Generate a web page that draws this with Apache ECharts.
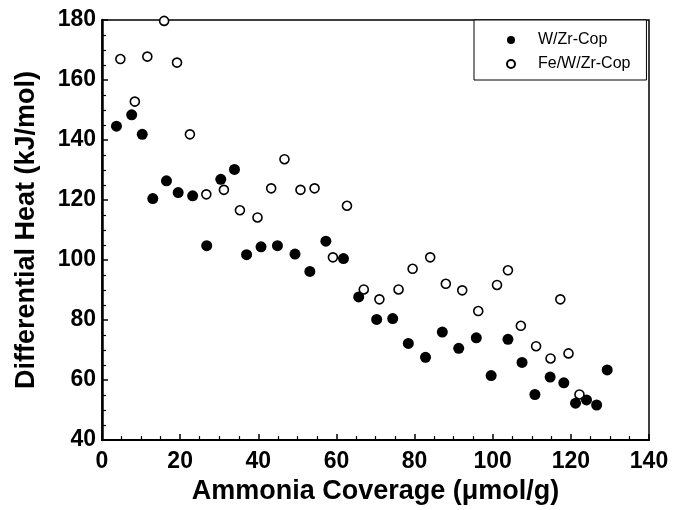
<!DOCTYPE html>
<html>
<head>
<meta charset="utf-8">
<script src="https://cdn.jsdelivr.net/npm/echarts@6/dist/echarts.min.js"></script>
<style>
  html, body { margin: 0; padding: 0; background: #fff; }
  #chart { width: 674px; height: 510px; }
</style>
</head>
<body>
<div id="chart"></div>
<script>
// W/Zr-Cop (filled circles): [coverage, heat]
const wzr_x = [3.7, 7.6, 10.3, 13.0, 16.5, 19.5, 23.2, 26.8, 30.4, 33.9, 37.0, 40.7, 44.9,
               49.4, 53.2, 57.3, 61.8, 65.7, 70.3, 74.4, 78.4, 82.8, 87.1, 91.3, 95.8,
               99.6, 103.9, 107.5, 110.8, 114.7, 118.2, 121.2, 124.0, 126.6, 129.3];
const wzr_y = [144.6, 148.4, 141.9, 120.5, 126.4, 122.5, 121.4, 104.8, 126.9, 130.2, 101.8, 104.4, 104.8,
               102.0, 96.2, 106.3, 100.5, 87.7, 80.2, 80.5, 72.2, 67.6, 76.0, 70.6, 74.1,
               61.5, 73.6, 65.9, 55.2, 61.0, 59.1, 52.3, 53.4, 51.7, 63.4];

// Fe/W/Zr-Cop (open circles)
const fewzr_x = [4.7, 8.4, 11.6, 15.9, 19.2, 22.5, 26.7, 31.2, 35.3, 39.8, 43.3, 46.7,
                 50.8, 54.4, 59.1, 62.7, 67.0, 71.0, 75.9, 79.5, 84.0, 88.0, 92.2, 96.3,
                 101.1, 103.9, 107.2, 111.1, 114.8, 117.3, 119.4, 122.2];
const fewzr_y = [167.0, 152.8, 167.8, 179.7, 165.8, 141.9, 121.9, 123.4, 116.6, 114.2, 123.9, 133.6,
                 123.4, 123.9, 100.9, 118.1, 90.2, 86.9, 90.2, 97.1, 100.9, 92.1, 89.9, 83.0,
                 91.7, 96.6, 78.1, 71.3, 67.2, 86.9, 68.9, 55.2];

const seriesNames = ['W/Zr-Cop', 'Fe/W/Zr-Cop'];
const xTicks = [0, 140, 20];   // min, max, step
const yTicks = [40, 180, 20];

const pairs = (xs, ys) => xs.map((x, i) => [x, ys[i]]);

const tickFont = { fontFamily: 'Liberation Sans', fontWeight: 'bold', fontSize: 23, color: '#000' };
const titleFont = { fontFamily: 'Liberation Sans', fontWeight: 'bold', fontSize: 27, color: '#000' };

const chart = echarts.init(document.getElementById('chart'), null, { renderer: 'canvas' });

chart.setOption({
    animation: false,
    backgroundColor: '#fff',
    grid: {
        left: 102, right: 25, top: 20, bottom: 68,
        show: true, borderColor: '#000', borderWidth: 1.5, backgroundColor: 'transparent'
    },
    legend: {
        orient: 'vertical',
        left: 474, top: 20,
        padding: [12, 16, 8, 32],
        itemWidth: 8, itemHeight: 8, itemGap: 8,
        borderColor: '#000', borderWidth: 1,
        backgroundColor: '#fff',
        textStyle: { fontFamily: 'Liberation Sans', fontSize: 16, color: '#000', padding: [0, 0, 0, 18] },
        data: seriesNames
    },
    xAxis: {
        type: 'value',
        min: xTicks[0], max: xTicks[1], interval: xTicks[2],
        name: 'Ammonia Coverage (μmol/g)',
        nameLocation: 'middle', nameGap: 32,
        nameTextStyle: titleFont,
        axisLine: { show: true, lineStyle: { color: '#000', width: 2 } },
        axisTick: { show: true, inside: true, length: 6, lineStyle: { color: '#000', width: 1.5 } },
        minorTick: { show: true, splitNumber: 4, length: 4, lineStyle: { color: '#000', width: 1.2 } },
        axisLabel: Object.assign({ margin: 10 }, tickFont),
        splitLine: { show: false }
    },
    yAxis: {
        type: 'value',
        min: yTicks[0], max: yTicks[1], interval: yTicks[2],
        name: 'Differential Heat (kJ/mol)',
        nameLocation: 'middle', nameGap: 62,
        nameTextStyle: titleFont,
        axisLine: { show: true, lineStyle: { color: '#000', width: 2.5 } },
        axisTick: { show: true, inside: true, length: 6, lineStyle: { color: '#000', width: 1.5 } },
        minorTick: { show: true, splitNumber: 4, length: 4, lineStyle: { color: '#000', width: 1.2 } },
        axisLabel: Object.assign({ margin: 6 }, tickFont),
        splitLine: { show: false }
    },
    series: [
        {
            name: seriesNames[0],
            type: 'scatter',
            symbol: 'circle',
            symbolSize: 11,
            itemStyle: { color: '#000', opacity: 1 },
            data: pairs(wzr_x, wzr_y)
        },
        {
            name: seriesNames[1],
            type: 'scatter',
            symbol: 'circle',
            symbolSize: 9,
            itemStyle: { color: '#fff', borderColor: '#000', borderWidth: 1.6, opacity: 1 },
            data: pairs(fewzr_x, fewzr_y)
        }
    ]
});
</script>
</body>
</html>
